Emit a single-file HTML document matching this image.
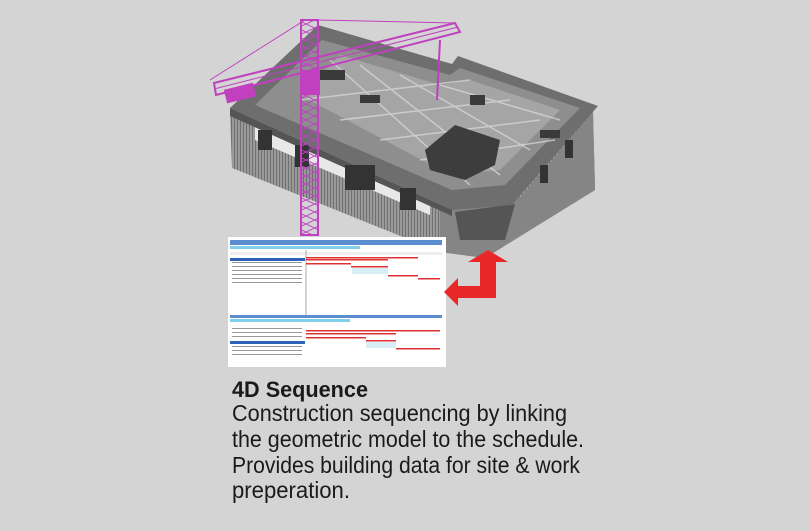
<!DOCTYPE html>
<html><head><meta charset="utf-8"><style>html,body{margin:0;padding:0;background:#d4d4d4}svg{display:block}</style></head><body>
<svg width="809" height="531" viewBox="0 0 809 531" xmlns="http://www.w3.org/2000/svg" font-family="Liberation Sans, sans-serif">
<defs>
<pattern id="vs" width="3" height="10" patternUnits="userSpaceOnUse"><rect width="3" height="10" fill="#9a9a9a"/><rect width="1" height="10" fill="#707070"/></pattern>
<pattern id="lat" width="17" height="8" patternUnits="userSpaceOnUse"><path d="M0,0 L17,8 M17,0 L0,8" stroke="#c040c0" stroke-width="1" fill="none"/></pattern>
</defs>
<rect width="809" height="531" fill="#d4d4d4"/>
<!-- building walls -->
<polygon points="230,112 232,168 440,252 485,258 595,190 593,110 520,196 455,212" fill="url(#vs)"/>
<polygon points="255,125 430,205 430,215 255,140" fill="#e8e8e8"/>
<polygon points="440,210 520,198 593,112 595,190 485,258 440,252" fill="#858585"/>
<polygon points="455,212 515,204 505,240 460,240" fill="#555"/>
<!-- roof -->
<polygon points="230,108 318,25 452,64 458,56 598,106 512,205 452,210" fill="#6e6e6e"/>
<polygon points="255,105 322,40 450,75 460,68 580,108 505,185 452,190" fill="#8e8e8e"/>
<polygon points="300,95 340,55 440,85 470,80 560,110 500,170 450,175" fill="#a5a5a5"/>
<g stroke="#dcdcdc" stroke-width="1.5" opacity=".7">
<line x1="330" y1="60" x2="470" y2="185"/><line x1="360" y1="65" x2="500" y2="175"/><line x1="400" y1="75" x2="530" y2="150"/><line x1="440" y1="85" x2="560" y2="120"/>
<line x1="300" y1="100" x2="470" y2="80"/><line x1="340" y1="120" x2="510" y2="100"/><line x1="380" y1="140" x2="540" y2="120"/><line x1="420" y1="160" x2="555" y2="140"/>
</g>
<g fill="#3a3a3a"><rect x="320" y="70" width="25" height="10"/><rect x="360" y="95" width="20" height="8"/><rect x="470" y="95" width="15" height="10"/><rect x="540" y="130" width="20" height="8"/></g>
<polygon points="425,150 455,125 500,140 495,165 465,180 430,170" fill="#3d3d3d"/>
<polygon points="230,108 452,210 452,216 230,116" fill="#555"/>
<!-- windows -->
<g fill="#333"><rect x="258" y="130" width="14" height="20"/><rect x="295" y="145" width="14" height="22"/><rect x="345" y="165" width="30" height="25"/><rect x="400" y="188" width="16" height="22"/><rect x="540" y="165" width="8" height="18"/><rect x="565" y="140" width="8" height="18"/></g>
<!-- crane -->
<rect x="301" y="20" width="17" height="215" fill="url(#lat)"/>
<g stroke="#c040c0" fill="none" stroke-width="2">
<rect x="301" y="20" width="17" height="215"/>
<polygon points="214,83 455,23 460,32 216,95"/>
<line x1="214" y1="89" x2="458" y2="27" stroke-width="1"/>
<line x1="440" y1="40" x2="437" y2="100"/>
<line x1="210" y1="80" x2="305" y2="20" stroke-width="1"/>
<line x1="318" y1="20" x2="455" y2="23" stroke-width="1"/>
</g>
<rect x="225" y="86" width="30" height="14" fill="#c040c0" transform="rotate(-14 240 93)"/>
<rect x="300" y="70" width="20" height="25" fill="#c040c0"/>
<!-- gantt panel -->
<rect x="228" y="237" width="218" height="130" fill="#fff"/>
<rect x="230" y="240" width="212" height="5" fill="#5a8ed0"/>
<rect x="230" y="246" width="130" height="3" fill="#7fd0e8"/>
<rect x="230" y="252" width="212" height="3" fill="#eee"/>
<rect x="230" y="258" width="75" height="3" fill="#2d62b8"/>
<g fill="#999"><rect x="232" y="262" width="70" height="1"/><rect x="232" y="266" width="70" height="1"/><rect x="232" y="270" width="70" height="1"/><rect x="232" y="274" width="70" height="1"/><rect x="232" y="278" width="70" height="1"/><rect x="232" y="282" width="70" height="1"/></g>
<line x1="306" y1="250" x2="306" y2="315" stroke="#aaa" stroke-width="1"/>
<g fill="#e03030"><rect x="306" y="257" width="112" height="1.5"/><rect x="306" y="259" width="82" height="1.5"/><rect x="306" y="263" width="45" height="1.5"/><rect x="351" y="266" width="37" height="1.5"/><rect x="388" y="275" width="30" height="1.5"/><rect x="418" y="278" width="22" height="1.5"/></g>
<rect x="352" y="268" width="36" height="6" fill="#d8eef5"/>
<rect x="230" y="315" width="212" height="3" fill="#5a8ed0"/>
<rect x="230" y="319" width="120" height="3" fill="#7fd0e8"/>
<rect x="230" y="341" width="75" height="3" fill="#2d62b8"/>
<g fill="#999"><rect x="232" y="328" width="70" height="1"/><rect x="232" y="332" width="70" height="1"/><rect x="232" y="336" width="70" height="1"/><rect x="232" y="346" width="70" height="1"/><rect x="232" y="350" width="70" height="1"/><rect x="232" y="354" width="70" height="1"/></g>
<g fill="#e03030"><rect x="306" y="330" width="134" height="1.5"/><rect x="306" y="333" width="90" height="1.5"/><rect x="306" y="337" width="60" height="1.5"/><rect x="366" y="340" width="30" height="1.5"/><rect x="396" y="348" width="44" height="1.5"/></g>
<rect x="366" y="342" width="30" height="6" fill="#d8eef5"/>
<!-- red arrow -->
<path d="M480,262 L468,262 L488,250 L508,262 L496,262 L496,298 L458,298 L458,306 L444,292 L458,278 L458,286 L480,286 Z" fill="#e82828"/>
<!-- text -->
<text x="232" y="397" font-size="22" font-weight="bold" fill="#1a1a1a" textLength="136" lengthAdjust="spacingAndGlyphs">4D Sequence</text>
<g font-size="23" fill="#1a1a1a">
<text x="232" y="421" textLength="335" lengthAdjust="spacingAndGlyphs">Construction sequencing by linking</text>
<text x="232" y="447" textLength="352" lengthAdjust="spacingAndGlyphs">the geometric model to the schedule.</text>
<text x="232" y="473" textLength="348" lengthAdjust="spacingAndGlyphs">Provides building data for site &amp; work</text>
<text x="232" y="498" textLength="118" lengthAdjust="spacingAndGlyphs">preperation.</text>
</g>
</svg>
</body></html>
